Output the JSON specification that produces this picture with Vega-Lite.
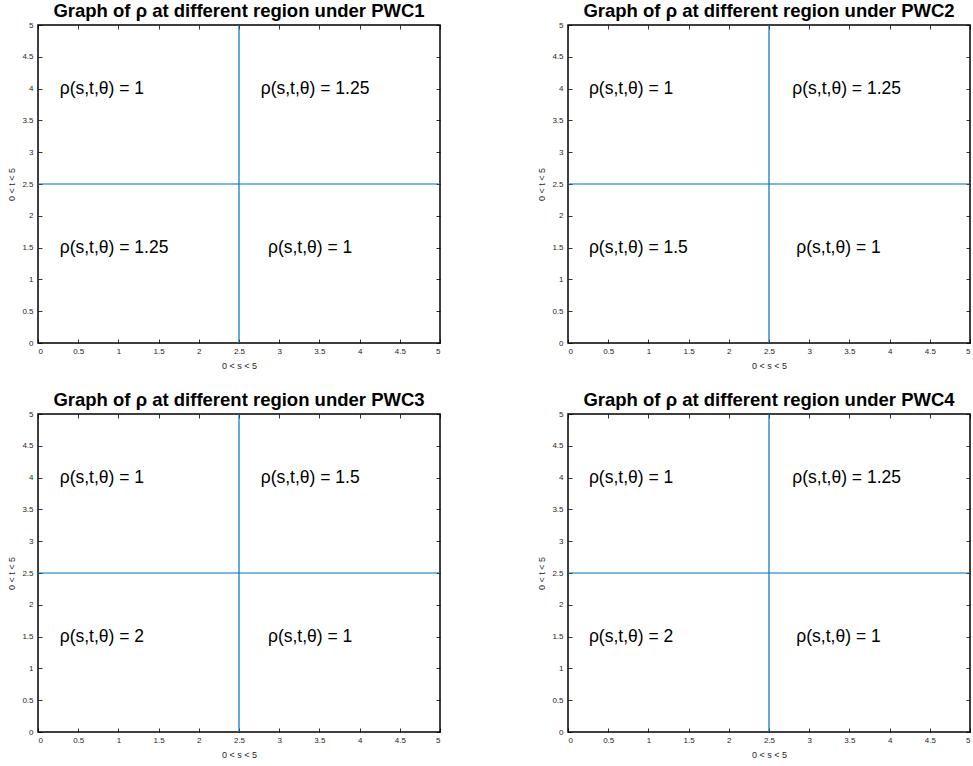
{
  "$schema": "https://vega.github.io/schema/vega-lite/v6.json",
  "background": "white",
  "padding": {"left": 7, "top": 0, "right": 0, "bottom": 0},
  "datasets": {
    "labels": [
      {"panel": "PWC1", "s": 0.27, "t": 4.0, "label": "ρ(s,t,θ) = 1"},
      {"panel": "PWC1", "s": 2.77, "t": 4.0, "label": "ρ(s,t,θ) = 1.25"},
      {"panel": "PWC1", "s": 0.27, "t": 1.5, "label": "ρ(s,t,θ) = 1.25"},
      {"panel": "PWC1", "s": 2.86, "t": 1.5, "label": "ρ(s,t,θ) = 1"},
      {"panel": "PWC2", "s": 0.26, "t": 4.0, "label": "ρ(s,t,θ) = 1"},
      {"panel": "PWC2", "s": 2.79, "t": 4.0, "label": "ρ(s,t,θ) = 1.25"},
      {"panel": "PWC2", "s": 0.26, "t": 1.5, "label": "ρ(s,t,θ) = 1.5"},
      {"panel": "PWC2", "s": 2.84, "t": 1.5, "label": "ρ(s,t,θ) = 1"},
      {"panel": "PWC3", "s": 0.27, "t": 4.0, "label": "ρ(s,t,θ) = 1"},
      {"panel": "PWC3", "s": 2.77, "t": 4.0, "label": "ρ(s,t,θ) = 1.5"},
      {"panel": "PWC3", "s": 0.27, "t": 1.5, "label": "ρ(s,t,θ) = 2"},
      {"panel": "PWC3", "s": 2.86, "t": 1.5, "label": "ρ(s,t,θ) = 1"},
      {"panel": "PWC4", "s": 0.26, "t": 4.0, "label": "ρ(s,t,θ) = 1"},
      {"panel": "PWC4", "s": 2.79, "t": 4.0, "label": "ρ(s,t,θ) = 1.25"},
      {"panel": "PWC4", "s": 0.26, "t": 1.5, "label": "ρ(s,t,θ) = 2"},
      {"panel": "PWC4", "s": 2.84, "t": 1.5, "label": "ρ(s,t,θ) = 1"}
    ],
    "lines": [
      {"panel": "PWC1", "orient": "v", "pos": 2.5},
      {"panel": "PWC1", "orient": "h", "pos": 2.5},
      {"panel": "PWC2", "orient": "v", "pos": 2.5},
      {"panel": "PWC2", "orient": "h", "pos": 2.5},
      {"panel": "PWC3", "orient": "v", "pos": 2.5},
      {"panel": "PWC3", "orient": "h", "pos": 2.5},
      {"panel": "PWC4", "orient": "v", "pos": 2.5},
      {"panel": "PWC4", "orient": "h", "pos": 2.5}
    ]
  },
  "columns": 2,
  "spacing": {"column": 95, "row": 18},
  "concat": [
    {
      "width": 402, "height": 318,
      "title": "Graph of ρ at different region under PWC1",
      "resolve": {"axis": {"x": "independent", "y": "independent"}},
      "layer": [
        {"data": {"name": "labels"}, "transform": [{"filter": "datum.panel == 'PWC1'"}],
         "mark": {"type": "text", "align": "left", "baseline": "middle", "fontSize": 17.5, "font": "Liberation Sans", "color": "black"},
         "encoding": {
           "x": {"field": "s", "type": "quantitative", "scale": {"domain": [0, 5], "nice": false, "zero": false}, "axis": {"orient": "bottom", "title": "0 < s < 5", "values": [0, 0.5, 1, 1.5, 2, 2.5, 3, 3.5, 4, 4.5, 5], "format": "~g"}},
           "y": {"field": "t", "type": "quantitative", "scale": {"domain": [0, 5], "nice": false, "zero": false}, "axis": {"orient": "left", "title": "0 < t < 5", "values": [0, 0.5, 1, 1.5, 2, 2.5, 3, 3.5, 4, 4.5, 5], "format": "~g"}},
           "text": {"field": "label"}
         }},
        {"data": {"name": "lines"}, "transform": [{"filter": "datum.panel == 'PWC1' && datum.orient == 'v'"}],
         "mark": {"type": "rule", "color": "#0072BD", "strokeWidth": 1.2},
         "encoding": {"x": {"field": "pos", "type": "quantitative", "axis": {"orient": "top", "labels": false, "title": null, "values": [0, 0.5, 1, 1.5, 2, 2.5, 3, 3.5, 4, 4.5, 5]}}}},
        {"data": {"name": "lines"}, "transform": [{"filter": "datum.panel == 'PWC1' && datum.orient == 'h'"}],
         "mark": {"type": "rule", "color": "#0072BD", "strokeWidth": 1.2},
         "encoding": {"y": {"field": "pos", "type": "quantitative", "axis": {"orient": "right", "labels": false, "title": null, "values": [0, 0.5, 1, 1.5, 2, 2.5, 3, 3.5, 4, 4.5, 5]}}}}
      ]
    },
    {
      "width": 402, "height": 318,
      "title": "Graph of ρ at different region under PWC2",
      "resolve": {"axis": {"x": "independent", "y": "independent"}},
      "layer": [
        {"data": {"name": "labels"}, "transform": [{"filter": "datum.panel == 'PWC2'"}],
         "mark": {"type": "text", "align": "left", "baseline": "middle", "fontSize": 17.5, "font": "Liberation Sans", "color": "black"},
         "encoding": {
           "x": {"field": "s", "type": "quantitative", "scale": {"domain": [0, 5], "nice": false, "zero": false}, "axis": {"orient": "bottom", "title": "0 < s < 5", "values": [0, 0.5, 1, 1.5, 2, 2.5, 3, 3.5, 4, 4.5, 5], "format": "~g"}},
           "y": {"field": "t", "type": "quantitative", "scale": {"domain": [0, 5], "nice": false, "zero": false}, "axis": {"orient": "left", "title": "0 < t < 5", "values": [0, 0.5, 1, 1.5, 2, 2.5, 3, 3.5, 4, 4.5, 5], "format": "~g"}},
           "text": {"field": "label"}
         }},
        {"data": {"name": "lines"}, "transform": [{"filter": "datum.panel == 'PWC2' && datum.orient == 'v'"}],
         "mark": {"type": "rule", "color": "#0072BD", "strokeWidth": 1.2},
         "encoding": {"x": {"field": "pos", "type": "quantitative", "axis": {"orient": "top", "labels": false, "title": null, "values": [0, 0.5, 1, 1.5, 2, 2.5, 3, 3.5, 4, 4.5, 5]}}}},
        {"data": {"name": "lines"}, "transform": [{"filter": "datum.panel == 'PWC2' && datum.orient == 'h'"}],
         "mark": {"type": "rule", "color": "#0072BD", "strokeWidth": 1.2},
         "encoding": {"y": {"field": "pos", "type": "quantitative", "axis": {"orient": "right", "labels": false, "title": null, "values": [0, 0.5, 1, 1.5, 2, 2.5, 3, 3.5, 4, 4.5, 5]}}}}
      ]
    },
    {
      "width": 402, "height": 318,
      "title": "Graph of ρ at different region under PWC3",
      "resolve": {"axis": {"x": "independent", "y": "independent"}},
      "layer": [
        {"data": {"name": "labels"}, "transform": [{"filter": "datum.panel == 'PWC3'"}],
         "mark": {"type": "text", "align": "left", "baseline": "middle", "fontSize": 17.5, "font": "Liberation Sans", "color": "black"},
         "encoding": {
           "x": {"field": "s", "type": "quantitative", "scale": {"domain": [0, 5], "nice": false, "zero": false}, "axis": {"orient": "bottom", "title": "0 < s < 5", "values": [0, 0.5, 1, 1.5, 2, 2.5, 3, 3.5, 4, 4.5, 5], "format": "~g"}},
           "y": {"field": "t", "type": "quantitative", "scale": {"domain": [0, 5], "nice": false, "zero": false}, "axis": {"orient": "left", "title": "0 < t < 5", "values": [0, 0.5, 1, 1.5, 2, 2.5, 3, 3.5, 4, 4.5, 5], "format": "~g"}},
           "text": {"field": "label"}
         }},
        {"data": {"name": "lines"}, "transform": [{"filter": "datum.panel == 'PWC3' && datum.orient == 'v'"}],
         "mark": {"type": "rule", "color": "#0072BD", "strokeWidth": 1.2},
         "encoding": {"x": {"field": "pos", "type": "quantitative", "axis": {"orient": "top", "labels": false, "title": null, "values": [0, 0.5, 1, 1.5, 2, 2.5, 3, 3.5, 4, 4.5, 5]}}}},
        {"data": {"name": "lines"}, "transform": [{"filter": "datum.panel == 'PWC3' && datum.orient == 'h'"}],
         "mark": {"type": "rule", "color": "#0072BD", "strokeWidth": 1.2},
         "encoding": {"y": {"field": "pos", "type": "quantitative", "axis": {"orient": "right", "labels": false, "title": null, "values": [0, 0.5, 1, 1.5, 2, 2.5, 3, 3.5, 4, 4.5, 5]}}}}
      ]
    },
    {
      "width": 402, "height": 318,
      "title": "Graph of ρ at different region under PWC4",
      "resolve": {"axis": {"x": "independent", "y": "independent"}},
      "layer": [
        {"data": {"name": "labels"}, "transform": [{"filter": "datum.panel == 'PWC4'"}],
         "mark": {"type": "text", "align": "left", "baseline": "middle", "fontSize": 17.5, "font": "Liberation Sans", "color": "black"},
         "encoding": {
           "x": {"field": "s", "type": "quantitative", "scale": {"domain": [0, 5], "nice": false, "zero": false}, "axis": {"orient": "bottom", "title": "0 < s < 5", "values": [0, 0.5, 1, 1.5, 2, 2.5, 3, 3.5, 4, 4.5, 5], "format": "~g"}},
           "y": {"field": "t", "type": "quantitative", "scale": {"domain": [0, 5], "nice": false, "zero": false}, "axis": {"orient": "left", "title": "0 < t < 5", "values": [0, 0.5, 1, 1.5, 2, 2.5, 3, 3.5, 4, 4.5, 5], "format": "~g"}},
           "text": {"field": "label"}
         }},
        {"data": {"name": "lines"}, "transform": [{"filter": "datum.panel == 'PWC4' && datum.orient == 'v'"}],
         "mark": {"type": "rule", "color": "#0072BD", "strokeWidth": 1.2},
         "encoding": {"x": {"field": "pos", "type": "quantitative", "axis": {"orient": "top", "labels": false, "title": null, "values": [0, 0.5, 1, 1.5, 2, 2.5, 3, 3.5, 4, 4.5, 5]}}}},
        {"data": {"name": "lines"}, "transform": [{"filter": "datum.panel == 'PWC4' && datum.orient == 'h'"}],
         "mark": {"type": "rule", "color": "#0072BD", "strokeWidth": 1.2},
         "encoding": {"y": {"field": "pos", "type": "quantitative", "axis": {"orient": "right", "labels": false, "title": null, "values": [0, 0.5, 1, 1.5, 2, 2.5, 3, 3.5, 4, 4.5, 5]}}}}
      ]
    }
  ],
  "config": {
    "font": "Liberation Sans",
    "view": {"stroke": "black", "strokeWidth": 1.5},
    "title": {"fontSize": 18.5, "fontWeight": "bold", "font": "Liberation Sans", "color": "black", "offset": 1},
    "axis": {
      "grid": false,
      "domain": false,
      "tickColor": "black",
      "tickWidth": 0.8,
      "tickSize": -4,
      "labelFontSize": 8,
      "labelColor": "#262626",
      "titleFontSize": 9,
      "titleFontWeight": "normal",
      "titleColor": "#262626"
    },
    "axisX": {"labelPadding": 8, "titlePadding": 6},
    "axisY": {"labelPadding": 9, "titlePadding": 5}
  }
}
